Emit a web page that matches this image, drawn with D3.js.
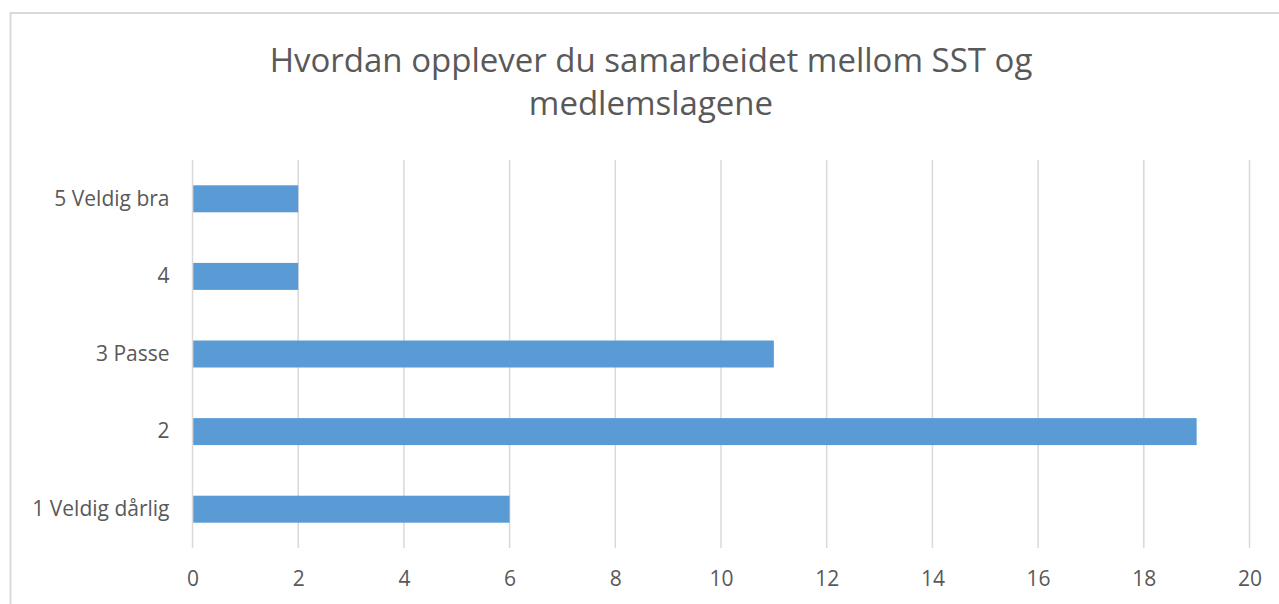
<!DOCTYPE html>
<html><head><meta charset="utf-8">
<script src="https://cdn.jsdelivr.net/npm/d3@7"></script>
<style>body{margin:0;background:#fff;} svg{display:block;}</style>
</head><body>
<svg id="chart" width="1279" height="604"></svg>
<script>
const titleLines = ["Hvordan opplever du samarbeidet mellom SST og", "medlemslagene"];
const categories = ["5 Veldig bra", "4", "3 Passe", "2", "1 Veldig dårlig"];
const values = [2, 2, 11, 19, 6];
const xTicks = [0, 2, 4, 6, 8, 10, 12, 14, 16, 18, 20];

const svg = d3.select("#chart");
const W = 1279, H = 604;
const margin = {left: 192.5, right: 29.5, top: 160, bottom: 56};
const font = "'Open Sans', 'Noto Sans', sans-serif";

// chart border
svg.append("rect").attr("x", 10.5).attr("y", 13).attr("width", 1290).attr("height", 620)
  .attr("fill", "#fff").attr("stroke", "#d9d9d9").attr("stroke-width", 2);

const x = d3.scaleLinear().domain([0, 20]).range([margin.left, W - margin.right]);
const y = d3.scaleBand().domain(categories).range([margin.top, H - margin.bottom]).paddingInner(0.652).paddingOuter(0.326);

// gridlines
svg.append("g").selectAll("line").data(xTicks).join("line")
  .attr("x1", d => x(d)).attr("x2", d => x(d))
  .attr("y1", margin.top).attr("y2", H - margin.bottom)
  .attr("stroke", "#d9d9d9").attr("stroke-width", 1.5);

// bars
svg.append("g").selectAll("rect").data(values).join("rect")
  .attr("x", x(0) + 0.75)
  .attr("y", (d, i) => y(categories[i]))
  .attr("width", d => x(d) - x(0) - 0.75)
  .attr("height", y.bandwidth())
  .attr("fill", "#5b9bd5");

// x axis labels
const xAxis = d3.axisBottom(x).tickValues(xTicks).tickSize(0).tickPadding(0);
const gx = svg.append("g").attr("transform", `translate(0,${H - margin.bottom + 31})`).call(xAxis);
gx.select(".domain").remove();
gx.selectAll("text").attr("font-family", font).attr("font-size", 21).attr("fill", "#595959").attr("dy", "0.35em").attr("y", 0);

// y axis labels
const yAxis = d3.axisLeft(y).tickSize(0).tickPadding(23);
const gy = svg.append("g").attr("transform", `translate(${margin.left},0)`).call(yAxis);
gy.select(".domain").remove();
gy.selectAll("text").attr("font-family", font).attr("font-size", 21).attr("fill", "#595959");

// title
svg.append("text").attr("x", 651).attr("y", 60).attr("text-anchor", "middle")
  .attr("font-family", font).attr("font-size", 33).attr("fill", "#595959")
  .selectAll("tspan").data(titleLines).join("tspan")
  .attr("x", 651).attr("dy", (d, i) => i === 0 ? "0.35em" : 43)
  .text(d => d);
</script>
</body></html>
